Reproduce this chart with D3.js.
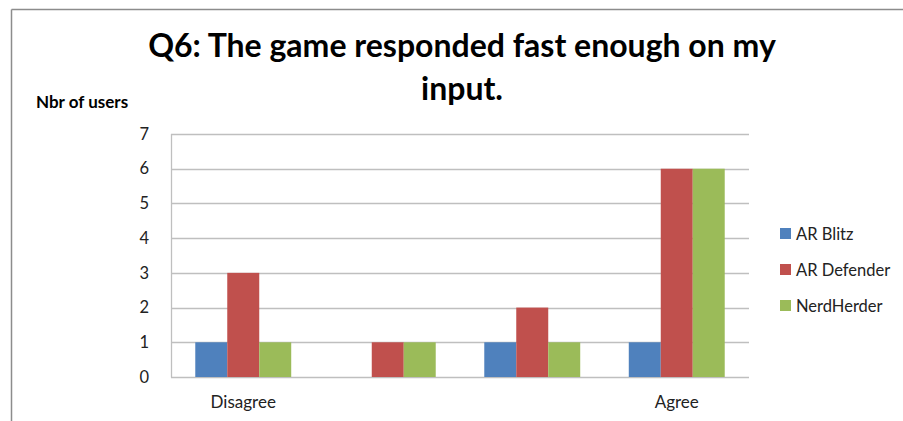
<!DOCTYPE html>
<html>
<head>
<meta charset="utf-8">
<script src="https://cdn.jsdelivr.net/npm/d3@7"></script>
<style>
  html, body { margin: 0; padding: 0; background: #fff; }
  svg { display: block; font-family: Lato, "Open Sans", sans-serif; }
</style>
</head>
<body>
<svg id="chart" width="903" height="421"></svg>
<script>
const categories = ["Disagree", "", " ", "Agree"];
const seriesNames = ["AR Blitz", "AR Defender", "NerdHerder"];
const arBlitz = [1, 0, 1, 1];
const arDefender = [3, 1, 2, 6];
const nerdHerder = [1, 1, 1, 6];
const yTicks = [0, 1, 2, 3, 4, 5, 6, 7];
const colors = ["#4F81BD", "#C0504D", "#9BBB59"];
const titleLines = ["Q6: The game responded fast enough on my", "input."];
const yAxisTitle = "Nbr of users";

const seriesValues = [arBlitz, arDefender, nerdHerder];

const svg = d3.select("#chart");

// Frame
svg.append("line").attr("x1", 11.5).attr("x2", 11.5).attr("y1", 9.5).attr("y2", 421)
  .attr("stroke", "#8c8c8c").attr("stroke-width", 1.5);
svg.append("line").attr("x1", 11.5).attr("x2", 903).attr("y1", 9.5).attr("y2", 9.5)
  .attr("stroke", "#8c8c8c").attr("stroke-width", 1.5);

const plot = { left: 171, right: 749, top: 134, bottom: 377 };

const x0 = d3.scaleBand().domain(categories).range([plot.left, plot.right]).paddingInner(0).paddingOuter(0);
const groupFrac = 0.664;
const x1 = d3.scaleBand().domain(seriesNames)
  .range([0, x0.bandwidth() * groupFrac]);
const y = d3.scaleLinear().domain([0, 7]).range([plot.bottom, plot.top]);

// gridlines
svg.append("g").selectAll("line").data(yTicks).join("line")
  .attr("x1", plot.left).attr("x2", plot.right)
  .attr("y1", d => Math.round(y(d)) + 0.5).attr("y2", d => Math.round(y(d)) + 0.5)
  .attr("stroke", "#bfbfbf").attr("stroke-width", 1.3);

// left axis line
svg.append("line").attr("x1", plot.left + 0.5).attr("x2", plot.left + 0.5)
  .attr("y1", plot.top).attr("y2", plot.bottom + 0.5)
  .attr("stroke", "#bfbfbf").attr("stroke-width", 1.3);

// y tick labels
const yAxis = d3.axisLeft(y).tickValues(yTicks).tickFormat(d3.format("d")).tickSize(0).tickPadding(22);
const yg = svg.append("g").attr("transform", `translate(${plot.left},0)`).call(yAxis);
yg.select(".domain").remove();
yg.selectAll("text").attr("font-size", 16.5).attr("fill", "#222").attr("font-family", "Lato, sans-serif");

// x labels
const xAxis = d3.axisBottom(x0).tickSize(0).tickPadding(19);
const xg = svg.append("g").attr("transform", `translate(0,${plot.bottom})`).call(xAxis);
xg.select(".domain").remove();
xg.selectAll("text").attr("font-size", 17).attr("fill", "#222").attr("font-family", "Lato, sans-serif");

// bars
const groups = svg.append("g").selectAll("g").data(categories).join("g")
  .attr("transform", d => `translate(${x0(d) + x0.bandwidth() * (1 - groupFrac) / 2},0)`);
groups.selectAll("rect")
  .data((d, i) => seriesNames.map((s, j) => ({ s, j, v: seriesValues[j][i] })))
  .join("rect")
  .filter(d => d.v > 0)
  .attr("x", d => x1(d.s))
  .attr("width", x1.bandwidth())
  .attr("y", d => y(d.v))
  .attr("height", d => y(0) - y(d.v))
  .attr("fill", d => colors[d.j]);

// title
const title = svg.append("text").attr("text-anchor", "middle").attr("font-weight", "bold")
  .attr("font-size", 32).attr("fill", "#000");
titleLines.forEach((t, i) => {
  title.append("tspan").attr("x", 462).attr("y", 57 + i * 43).text(t);
});

// y axis title
svg.append("text").attr("x", 36).attr("y", 108).attr("font-weight", "bold")
  .attr("font-size", 17).attr("fill", "#000").text(yAxisTitle);

// legend
const legend = svg.append("g").selectAll("g").data(seriesNames).join("g")
  .attr("transform", (d, i) => `translate(780,${234 + i * 36})`);
legend.append("rect").attr("x", 0).attr("y", -6).attr("width", 11).attr("height", 11)
  .attr("fill", (d, i) => colors[i]);
legend.append("text").attr("x", 16).attr("y", 6).attr("font-size", 16.5).attr("fill", "#222").text(d => d);
</script>
</body>
</html>
